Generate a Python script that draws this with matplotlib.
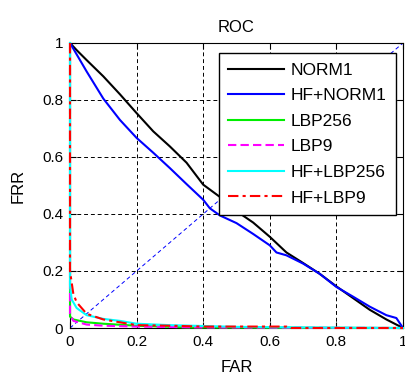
import matplotlib
matplotlib.use("Agg")
import matplotlib.pyplot as plt

plt.rcParams['font.family'] = ['Liberation Sans', 'DejaVu Sans']

# Data (FAR, FRR)
norm1_far = [0.0, 0.02, 0.05, 0.1, 0.15, 0.2, 0.25, 0.3, 0.35, 0.4, 0.45, 0.5, 0.55, 0.6, 0.65, 0.7, 0.75, 0.8, 0.85, 0.9, 0.95, 0.98, 1.0]
norm1_frr = [1.0, 0.975, 0.94, 0.883, 0.82, 0.754, 0.69, 0.637, 0.58, 0.503, 0.46, 0.41, 0.37, 0.32, 0.265, 0.228, 0.19, 0.146, 0.105, 0.064, 0.03, 0.012, 0.0]

hfnorm1_far = [0.0, 0.05, 0.1, 0.15, 0.2, 0.25, 0.3, 0.35, 0.4, 0.41, 0.42, 0.45, 0.5, 0.55, 0.6, 0.62, 0.65, 0.7, 0.75, 0.8, 0.85, 0.9, 0.95, 0.98, 1.0]
hfnorm1_frr = [1.0, 0.9, 0.805, 0.73, 0.667, 0.615, 0.561, 0.505, 0.45, 0.435, 0.42, 0.395, 0.368, 0.33, 0.29, 0.265, 0.255, 0.226, 0.19, 0.144, 0.11, 0.075, 0.045, 0.035, 0.0]

lbp256_far = [0.0, 0.0, 0.01, 0.05, 0.1, 0.2, 0.35, 0.6, 1.0]
lbp256_frr = [1.0, 0.04, 0.03, 0.02, 0.015, 0.008, 0.002, 0.001, 0.0]

lbp9_far = [0.0, 0.0, 0.01, 0.05, 0.1, 0.2, 0.4, 1.0]
lbp9_frr = [1.0, 0.05, 0.025, 0.012, 0.008, 0.005, 0.002, 0.0]

hflbp256_far = [0.0, 0.0, 0.005, 0.02, 0.05, 0.1, 0.15, 0.2, 0.3, 0.5, 0.7, 1.0]
hflbp256_frr = [1.0, 0.15, 0.1, 0.07, 0.045, 0.032, 0.025, 0.015, 0.01, 0.004, 0.002, 0.0]

hflbp9_far = [0.0, 0.0, 0.005, 0.01, 0.02, 0.05, 0.1, 0.15, 0.2, 0.3, 0.4, 0.65, 0.66, 1.0]
hflbp9_frr = [1.0, 0.2, 0.16, 0.12, 0.09, 0.05, 0.03, 0.02, 0.01, 0.008, 0.005, 0.005, 0.0, 0.0]

diag = [0.0, 1.0]

fig = plt.figure(figsize=(4.06, 3.74), dpi=100)
ax = fig.add_axes([70/406, 1-328/374, 333/406, 285/374])

ax.plot(diag, diag, color='blue', lw=0.7, ls=(0, (4, 3)))
ax.plot(norm1_far, norm1_frr, color='black', lw=1.5, label='NORM1', zorder=3)
ax.plot(hfnorm1_far, hfnorm1_frr, color='blue', lw=1.5, label='HF+NORM1', zorder=3)
ax.plot(lbp256_far, lbp256_frr, color='#00ee00', lw=1.5, label='LBP256', clip_on=False, zorder=3)
ax.plot(lbp9_far, lbp9_frr, color='magenta', lw=1.5, ls=(0, (4, 2)), label='LBP9', clip_on=False, zorder=3)
ax.plot(hflbp256_far, hflbp256_frr, color='cyan', lw=1.5, label='HF+LBP256', clip_on=False, zorder=3)
ax.plot(hflbp9_far, hflbp9_frr, color='red', lw=1.5, ls=(0, (5, 2, 1.5, 2)), label='HF+LBP9', clip_on=False, zorder=3)

ax.set_xlim(0, 1)
ax.set_ylim(0, 1)
ax.set_xticks([0, 0.2, 0.4, 0.6, 0.8, 1])
ax.set_xticklabels(['0', '0.2', '0.4', '0.6', '0.8', '1'])
ax.set_yticks([0, 0.2, 0.4, 0.6, 0.8, 1])
ax.set_yticklabels(['0', '0.2', '0.4', '0.6', '0.8', '1'])
ax.tick_params(direction='in', labelsize=11, length=4, top=True, right=True, pad=5)
ax.grid(True, color='black', ls=(0, (4, 3)), lw=0.7)
for s in ax.spines.values():
    s.set_linewidth(0.8)

ax.set_title('ROC', fontsize=12, pad=8)
ax.set_xlabel('FAR', fontsize=12, labelpad=8)
ax.set_ylabel('FRR', fontsize=12, labelpad=12)

leg = ax.legend(loc='upper right', bbox_to_anchor=(0.98, 0.965), borderaxespad=0,
                fontsize=12.5, handlelength=3.2, labelspacing=0.6, handletextpad=0.4,
                fancybox=False, framealpha=1, edgecolor='black', borderpad=0.55)
leg.get_frame().set_linewidth(1.0)

fig.savefig('out.png', dpi=100)
